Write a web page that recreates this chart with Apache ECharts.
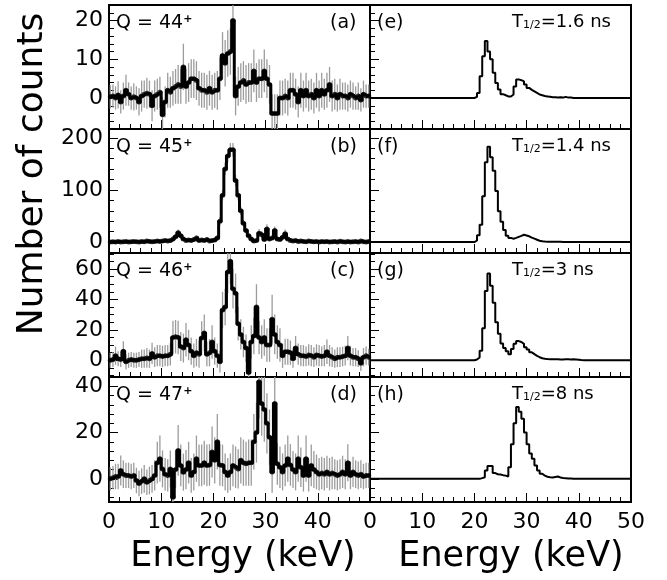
<!DOCTYPE html>
<html><head><meta charset="utf-8">
<script src="https://cdn.jsdelivr.net/npm/echarts@6/dist/echarts.min.js"></script>
<style>html,body{margin:0;padding:0;background:#fff}#c{width:667px;height:580px}</style>
</head><body><div id="c"></div>
<script>
// ---------------- DATA ----------------
const binWidth = 0.5;          // keV per bin
const nBins = 100;             // 0..50 keV
const xTicks = [0, 10, 20, 30, 40, 50];

// experimental spectra (counts per 0.5 keV bin) and their errors
const expA = [0.3,0.5,0,0.8,-1,0.5,2,1,0,0.3, 0,-1,0.5,1,1.2,1,-2,0.5,1,1.5, -4.3,-1,2,1.5,2.5,3,3.5,3,8,3,
  4,5,5,4.5,2.5,2,2,1.5,2.5,1.5, 2,2,5,11,9,11.5,12,20,0.5,3, 4,4.5,3.5,4,4,7,4,5,5,7,
  5,3.5,-4,-4,-4,0,0,0.5,0,2, 2,1,-1,2,0.5,2,0.5,1,0,2, 0.5,2,1,2,3.5,0.5,1,0,1,0.5, 0.5,0,1,0.5,0,0.5,-0.5,1,0.5,0.5];
const errA = [3,3,3,3.5,3,3.5,4,3,3,3.5, 3,3.5,4,3.5,4,3.5,4,4,4,4, 4.5,4,4.5,4,4.5,4.5,5,4.5,6,4.5,
  5,5,5,5,4.5,4.5,4.5,4.5,4.5,4.5, 4.5,5,5.5,6,6,6,6,7,5,5, 5,5,5,5,5,5.5,5,5,5,5.5,
  5,5,5,5,5,4.5,4.5,4.5,4.5,4.5, 4.5,4,4,4.5,4,4.5,4,4,4,4.5, 4,4.5,4,4.5,4.5,4,4,3.5,4,3.5, 3.5,3.5,3.5,3.5,3,3.5,3,3.5,3,3];

const expB = [0,0.5,0,1,0,0.5,1,0,0.5,1, 0.5,0,1,0.5,2,1,0.5,1,2,1, 2,3,2,3,6,10,18,12,6,3,
  4,3,5,8,3,4,3,5,2,3, 4,8,40,90,140,165,177,177,118,90, 60,36,22,12,6,2,3,17,14,5,
  25,6,8,22,6,5,9,16,6,3, 2,3,1,2,1,0.5,2,1,0.5,1, 0,1,0.5,1,0,0.5,1,0,1.5,0.5, 0,1,0,0.5,1,0,2,0.5,0,1];
const errB = [2,2,2,2.5,2,2,2.5,2,2,2.5, 2,2,2.5,2,3,2.5,2,2.5,3,2.5, 3,3.5,3,3.5,4,5,6,5,4,3.5,
  3.5,3.5,4,4.5,3.5,4,3.5,4,3,3.5, 4,5,8,10,12,13,13,13,11,10, 8,6.5,5,4,3,2.5,3,8,7,3.5,
  9,3.5,4,8,3.5,3.5,5,8,3.5,3, 2.5,3,2,2.5,2,2,2.5,2,2,2, 2,2,2,2,2,2,2,2,2.5,2, 2,2,2,2,2,2,2.5,2,2,2];

const expC = [0,0.5,3,1,0.5,6,-1,0,0.5,0, 0,0.5,1,1,1.5,1,4.5,2,3,3, 2.5,3,3,4,15,15.5,15,9,8,13.5,
  10,6,3,5,4,14.6,18,4,5,12, 6,3,-1,33,35,58,65,47,44,24, 17,12,8,-8,12,16,35,15,12,15,
  10,10,27,17,12,10,3,5.6,5.6,5, 1,8,4,3,3,2.5,3.5,3,2,3.5, 3,2.5,3,5.6,3,2,1,2,2,2.5, 3,8,3,2,2,1,-2,2,3,2];
const errC = [5,5,6,5,5,6.5,5,5,5,5, 5,5,6,6,6.5,6,7,6.5,7,7, 7,7,7,7.5,11,11,11,9.5,9.5,11,
  10,9,8,9,9,11,12,8,9,11, 9,8,7,12,12,14,15,13,13,11, 10,10,9,7,11,12,15,11,11,12,
  11,11,16,13,11,11,8,8.5,8.5,8, 6,8,7,7,7,6.5,7,7,6.5,7, 7,6.5,7,8,7,6.5,6,6.5,6.5,6.5, 6.5,8,6.5,6,6,5.5,5,6,6,5.5];

const expD = [0,0.5,1,1,3.6,2,1.5,1.5,1,1.5, -0.7,-2,-1,0,-1.5,-0.7,0,1.5,7,8.7, 4.3,2,1.5,4.3,-8,4,12.3,5.8,2.9,4,
  7,1.5,3,8.7,5.8,5.8,7,5.8,6,11.6, 8,16,6,5.8,3,1.5,3,5.8,5,4.3, 8,7,6.5,7,7,16,20,42,32.6,30,
  24,18,3,32.6,6.5,5,3,5.8,8.7,6, 4,3,8.7,5,1.5,8.7,1.5,5.8,4,3, 2,2.5,2,3,2,2.5,2,1.5,2,3, 2,7,1.5,3,2,1.5,2,1,1.5,1.5];
const errD = [5,5,5.5,5.5,6.5,6,5.5,5.5,5.5,5.5, 5.5,5.5,5.5,6,5.5,6,6,6.5,9,10, 8,7,7,8,8,8,11,9,8,8.5,
  9,7.5,8,10,9,9,9.5,9,9,11, 10,12,9,9,8,7.5,8,9,9,8.5, 10,10,9.5,10,10,12,13,16,14,14,
  13,12,9,14,9,9,8,9,10,9, 8,8,10,8.5,7,10,7,9,8,7.5, 7,7,7,7,7,7,6.5,6.5,6.5,7, 6.5,8,6,6.5,6,6,6,5.5,5.5,5.5];

// simulated spectra: values for bins starting at simStart, zero elsewhere
const simStart = 38;
const simE = [0,0,0.3,1.3,5.6,10.8,14.7,12,10,6.5, 3.9,2.2,1,0.7,0.4,0.4,0.9,3,4.8,4.6,
  4.3,3.5,2.6,2.1,1.7,1.3,0.9,0.7,0.5,0.4, 0.3,0.2,0.2,0.1,0.2,0.1,0.3,0.1,0.1,0];
const simF = [0,0,3,13,33,88,153,183,163,137, 98,59,39,23,12,8,6.5,8,10,12,
  14,12.5,11,8.5,6.5,4.5,2.5,1.5,1,0.6, 0.5,0.4,0.5,0.8,0.6,0.3,0.1,0,0,0];
const simG = [0,0,0.5,1.8,6.3,21,45.6,57,49,37.8, 25,17.5,11,8,6,4,7.4,10.8,12.6,12,
  10.8,8.5,7,5.2,4,2.9,2,1.3,1,0.8, 0.7,0.7,0.6,0.6,0.5,0.5,0.6,0.6,0.5,0.7, 0.5,0.3,0.1];
const simH = [0,0,0,0,0.3,0.7,3.6,5.5,5.5,2.5, 2,1.9,1.6,1.4,1,5,15,24,31,29,
  26,20,15,11,8.7,5.8,3.6,2.2,1.4,0.9, 0.7,0.6,0.8,1,0.6,0.4,0.3,0.2,0.1,0];

// y ranges and ticks per row
const yRangeA = [-8, 24],    yMajorA = [0, 10, 20],        yMinorA = [-6,-4,-2,2,4,6,8,12,14,16,18,22,24];
const yRangeB = [-21, 217],  yMajorB = [0, 100, 200],      yMinorB = [-20,20,40,60,80,120,140,160,180];
const yRangeC = [-11, 70.5], yMajorC = [0, 20, 40, 60],    yMinorC = [-10,-5,5,10,15,25,30,35,45,50,55,65,70];
const yRangeD = [-10, 44],   yMajorD = [0, 20, 40],        yMinorD = [-8,-4,4,8,12,16,24,28,32,36];

const qLabels = ['44', '45', '46', '47'];
const leftTags = ['(a)', '(b)', '(c)', '(d)'];
const rightTags = ['(e)', '(f)', '(g)', '(h)'];
const halfLives = ['1.6 ns', '1.4 ns', '3 ns', '8 ns'];

// ---------------- CHART ----------------
const FONT = 'DejaVu Sans';
const rows = [
  {exp: expA, err: errA, sim: simE, range: yRangeA, major: yMajorA, minor: yMinorA},
  {exp: expB, err: errB, sim: simF, range: yRangeB, major: yMajorB, minor: yMinorB},
  {exp: expC, err: errC, sim: simG, range: yRangeC, major: yMajorC, minor: yMinorC},
  {exp: expD, err: errD, sim: simH, range: yRangeD, major: yMajorD, minor: yMinorD}
];
const colLeft = [109, 370], colW = 261;
const rowTop = [5, 129, 253, 377], rowH = [124, 124, 124, 125];

function edgePoints(getVal) {
  const pts = [];
  for (let i = 0; i < nBins; i++) {
    const v = getVal(i);
    pts.push([i * binWidth, v], [(i + 1) * binWidth, v]);
  }
  return pts;
}

const grids = [], xAxes = [], yAxes = [], series = [], graphics = [];
for (let g = 0; g < 8; g++) {
  const col = g < 4 ? 0 : 1, r = g % 4, p = rows[r];
  grids.push({left: colLeft[col], top: rowTop[r], width: colW, height: rowH[r],
    show: true, borderColor: '#000', borderWidth: 2, backgroundColor: 'rgba(0,0,0,0)'});
  xAxes.push({type: 'value', gridIndex: g, min: 0, max: 50, interval: 10, position: 'bottom',
    axisLine: {show: false, onZero: false}, splitLine: {show: false},
    axisTick: {show: true, inside: true, length: 9, lineStyle: {color: '#000', width: 1}},
    minorTick: {show: true, splitNumber: 5, length: 5, lineStyle: {color: '#000', width: 1}},
    minorSplitLine: {show: false},
    axisLabel: {show: r === 3, showMaxLabel: col === 1, fontSize: 22, fontFamily: FONT, color: '#000', margin: 9}});
  yAxes.push({type: 'value', gridIndex: g, min: p.range[0], max: p.range[1], position: 'left',
    axisLine: {show: false, onZero: false}, splitLine: {show: false},
    axisTick: {show: true, inside: true, length: 9, customValues: p.major, lineStyle: {color: '#000', width: 1}},
    axisLabel: {show: col === 0, customValues: p.major, fontSize: 22, fontFamily: FONT, color: '#000', margin: 6}});
  yAxes.push({type: 'value', gridIndex: g, min: p.range[0], max: p.range[1], position: 'left',
    axisLine: {show: false, onZero: false}, splitLine: {show: false},
    axisTick: {show: true, inside: true, length: 5, customValues: p.minor, lineStyle: {color: '#000', width: 1}},
    axisLabel: {show: false}});

  if (col === 0) {
    const errData = p.exp.map((v, i) => [(i + 0.5) * binWidth, v, p.err[i]]);
    series.push({type: 'custom', xAxisIndex: g, yAxisIndex: 2 * g, data: errData, silent: true, z: 1,
      renderItem: function (params, api) {
        const x = api.value(0), v = api.value(1), e = api.value(2);
        const a = api.coord([x, v - e]), b = api.coord([x, v + e]);
        const cs = params.coordSys;
        const cl = y => Math.max(cs.y, Math.min(cs.y + cs.height, y));
        return {type: 'line', shape: {x1: a[0], y1: cl(a[1]), x2: b[0], y2: cl(b[1])},
          style: {stroke: '#9c9c9c', lineWidth: 1.3}};
      }});
    series.push({type: 'line', xAxisIndex: g, yAxisIndex: 2 * g, data: edgePoints(i => p.exp[i]),
      showSymbol: false, silent: true, z: 3, animation: false,
      lineStyle: {color: '#000', width: 3, join: 'round'}});
    series.push({type: 'scatter', xAxisIndex: g, yAxisIndex: 2 * g,
      data: p.exp.map((v, i) => [(i + 0.5) * binWidth, v]),
      symbol: 'circle', symbolSize: 5, itemStyle: {color: '#000'}, silent: true, z: 4, animation: false});
  } else {
    series.push({type: 'line', xAxisIndex: g, yAxisIndex: 2 * g,
      data: edgePoints(i => (i >= simStart && i - simStart < p.sim.length) ? p.sim[i - simStart] : 0),
      showSymbol: false, silent: true, z: 3, animation: false,
      lineStyle: {color: '#000', width: 2}});
  }
}

// panel annotations
for (let r = 0; r < 4; r++) {
  const cy = rowTop[r] + 18;
  graphics.push({type: 'text', x: 116, y: cy, style: {
    text: '{m|Q = ' + qLabels[r] + '}{s|+}', verticalAlign: 'middle', align: 'left',
    rich: {m: {fontSize: 19, fontFamily: FONT, fill: '#000'},
           s: {fontSize: 11, fontWeight: 'bold', fontFamily: FONT, fill: '#000', verticalAlign: 'top'}}}});
  graphics.push({type: 'text', x: 330, y: cy, style: {
    text: leftTags[r], font: '19px "DejaVu Sans"', fill: '#000', verticalAlign: 'middle', align: 'left'}});
  graphics.push({type: 'text', x: 377, y: cy, style: {
    text: rightTags[r], font: '19px "DejaVu Sans"', fill: '#000', verticalAlign: 'middle', align: 'left'}});
  graphics.push({type: 'text', x: 512, y: cy - 1, style: {
    text: '{m|T}{b|1/2}{m|=' + halfLives[r] + '}', verticalAlign: 'middle', align: 'left',
    rich: {m: {fontSize: 18, fontFamily: FONT, fill: '#000'},
           b: {fontSize: 11, fontFamily: FONT, fill: '#000', verticalAlign: 'bottom', padding: [6, 0, 0, 0]}}}});
}
graphics.push({type: 'text', x: 33, y: 174, rotation: Math.PI / 2, style: {
  text: 'Number of counts', font: '36px "DejaVu Sans"', fill: '#000', align: 'center', verticalAlign: 'middle'}});
graphics.push({type: 'text', x: 243, y: 557, style: {
  text: 'Energy (keV)', font: '35px "DejaVu Sans"', fill: '#000', align: 'center', verticalAlign: 'middle'}});
graphics.push({type: 'text', x: 511, y: 557, style: {
  text: 'Energy (keV)', font: '35px "DejaVu Sans"', fill: '#000', align: 'center', verticalAlign: 'middle'}});

const chart = echarts.init(document.getElementById('c'));
chart.setOption({
  animation: false,
  backgroundColor: '#fff',
  grid: grids, xAxis: xAxes, yAxis: yAxes, series: series, graphic: graphics
});
</script></body></html>
